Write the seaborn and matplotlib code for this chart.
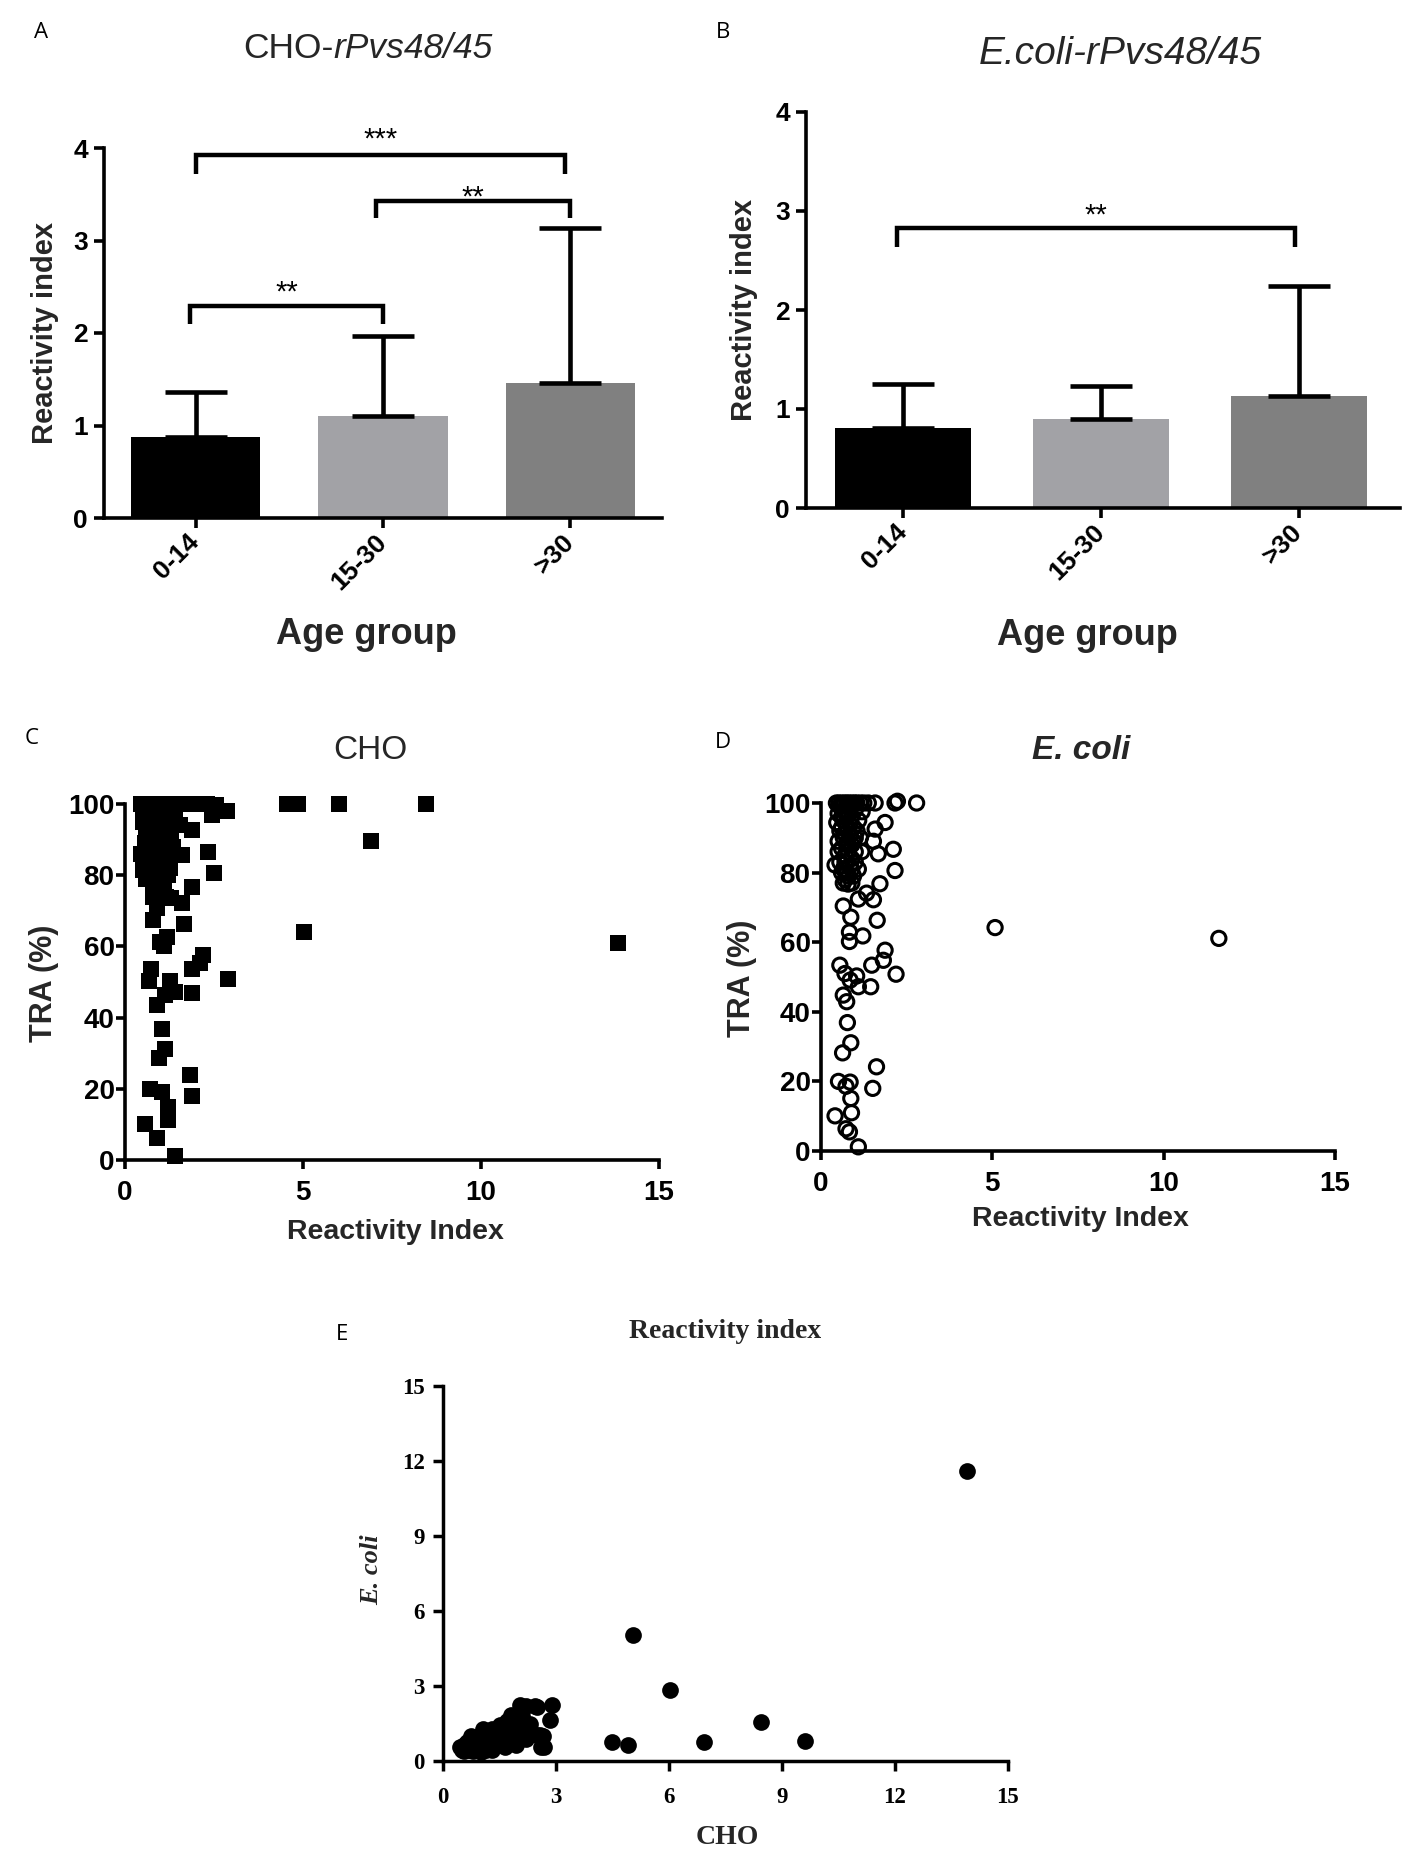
import numpy as np
import pandas as pd
import matplotlib
matplotlib.use("Agg")
import matplotlib.pyplot as plt
import seaborn as sns

# ---------------- data ----------------
age_groups = ['0-14', '15-30', '>30']
bar_colors = ['#000000', '#a2a2a6', '#808080']

cho_mean = [0.88, 1.10, 1.46]
cho_sd = [0.48, 0.87, 1.67]
ecoli_mean = [0.81, 0.90, 1.13]
ecoli_sd = [0.44, 0.33, 1.11]

# Panel C: CHO reactivity index vs TRA (%)
c_ri = [0.45, 0.55, 0.65, 0.75, 0.85, 0.95, 1.05, 1.15, 1.25, 1.35, 1.5, 1.65, 1.8, 1.95, 2.1, 2.3, 2.57,
        4.55, 4.85, 6.0, 8.45,
        0.5, 0.8, 1.1, 2.45, 2.86,
        0.55, 0.7, 0.9, 1.1, 1.3, 1.55, 1.87,
        0.6, 0.8, 1.0, 1.2, 0.65, 0.9, 1.1, 1.35, 1.6, 2.34,
        0.6, 0.85, 1.05, 1.25, 0.5, 0.75, 1.0, 1.2, 2.51,
        0.8, 1.0, 1.87, 1.15, 1.3, 1.59, 0.89, 0.8, 1.66, 1.17, 0.98, 1.1,
        2.2, 2.1, 1.87, 0.72, 5.04, 13.86, 6.92,
        0.68, 1.26, 1.40, 1.12, 0.89, 1.87, 2.90, 1.05, 1.12, 0.96, 1.83, 1.87,
        0.70, 1.03, 1.22, 1.22, 0.56, 0.89, 1.40,
        0.5, 0.65, 0.75, 0.95, 1.2, 0.55, 0.7, 0.85, 1.0, 1.3, 0.6, 0.9, 1.15, 0.7, 1.05,
        0.45, 1.4, 0.95, 1.1, 0.8]
c_tra = [100, 100, 100, 100, 100, 100, 100, 100, 100, 100, 100, 100, 100, 100, 100, 100, 99.7,
         100, 100, 100, 100,
         98, 98.5, 98, 97, 98.1,
         96, 95, 94, 95, 93.5, 94, 92.7,
         91, 90, 91, 89, 88, 87, 86, 88, 85.7, 86.6,
         84, 83, 84, 82, 81.5, 80, 79, 80, 80.5,
         77, 76, 76.6, 74, 73.5, 72.1, 70.7, 67.4, 66.3, 62.7, 61.3, 60,
         57.6, 55.4, 53.6, 53.6, 64.0, 61.0, 89.6,
         50.4, 50.4, 47.3, 46.3, 43.5, 47.0, 50.8, 36.8, 31.1, 28.6, 23.9, 18.0,
         19.9, 19.2, 15.0, 11.2, 10.0, 6.1, 1.1,
         95, 97, 92, 97, 96, 89, 86, 95, 88, 90, 79, 81, 84, 82, 93,
         86, 96, 76, 78, 74]

# Panel D: E. coli reactivity index vs TRA (%)
d_ri = [0.45, 0.52, 0.6, 0.68, 0.75, 0.82, 0.9, 0.98, 1.05, 1.15, 1.25, 1.38, 1.58, 2.16, 2.23, 2.79,
        0.5, 0.6, 0.7, 0.8, 0.9, 1.0, 1.2, 0.46, 0.55, 0.65, 0.75, 0.85, 0.95, 1.05, 1.15,
        1.87, 1.58, 1.53, 0.6, 0.7, 0.8, 0.9, 1.0, 1.19, 1.67, 2.11, 0.55, 0.41, 0.65, 0.75,
        0.85, 0.95, 1.09, 2.16, 0.7, 0.79, 0.9, 1.72, 1.33, 1.53, 1.09, 0.65, 0.87, 1.64,
        0.83, 1.22, 0.83, 5.08, 11.61, 1.87, 1.82,
        0.55, 1.48, 2.19, 0.70, 1.04, 0.85, 1.09, 1.45, 0.65, 0.75, 0.77, 0.87, 0.63, 1.62,
        0.51, 0.85, 0.73, 1.51, 0.87, 0.41, 0.89, 0.73, 0.83, 1.09,
        0.55, 0.65, 0.75, 0.85, 0.95, 0.5, 0.6, 0.7, 0.8, 0.9, 1.0, 0.6, 0.7, 0.8, 0.9, 1.0,
        1.1, 0.5, 0.75, 0.65]
d_tra = [100, 100, 100, 100, 100, 100, 100, 100, 100, 100, 100, 100, 100, 100, 100.5, 100,
         97, 96, 98, 97, 96, 98, 97.5, 94.4, 92, 90, 93, 91, 89, 92, 90,
         94.4, 92.5, 89, 87, 85, 88, 84, 86, 86, 85.4, 86.7, 83, 82.2, 81, 80,
         82, 79, 81, 80.6, 78, 76.7, 77, 76.8, 74.1, 72.2, 72.4, 70.4, 67.2, 66.3,
         62.9, 61.8, 60.2, 64.2, 61.1, 57.7, 54.8,
         53.4, 53.4, 50.8, 51.0, 50.3, 49.1, 47.2, 47.2, 44.8, 42.9, 36.9, 31.1, 28.2, 24.2,
         20.0, 19.8, 18.6, 18.0, 15.1, 10.1, 11.0, 6.4, 5.5, 1.2,
         99, 95, 96, 94, 93, 89, 93, 91, 86, 88, 90, 80, 83, 79, 81, 83,
         95, 86, 88, 77]

# Panel E: CHO vs E. coli reactivity index
e_cho = [0.45, 0.5, 0.55, 0.6, 0.65, 0.7, 0.75, 0.8, 0.85, 0.9, 0.95, 1.0, 1.05, 1.1, 1.15, 1.2,
         1.25, 1.3, 1.35, 1.4, 1.45, 1.5, 1.55, 1.6, 1.65, 1.7, 1.75, 1.8, 1.85, 1.9, 1.95, 2.0,
         2.05, 2.1, 2.2, 2.3, 2.45, 2.5, 2.6, 2.65, 2.85, 2.9, 0.6, 0.8, 1.0, 0.75, 1.05, 1.2,
         1.5, 1.7, 2.2, 2.49, 2.58, 2.67,
         0.55, 0.7, 0.9, 1.0, 1.15, 1.3, 1.45, 1.6, 1.75, 1.85, 2.0, 2.1, 1.3, 1.65, 0.85,
         4.49, 4.90, 5.05, 6.02, 6.94, 8.45, 9.6, 13.9]
e_ecoli = [0.55, 0.45, 0.65, 0.5, 0.75, 0.45, 0.6, 0.85, 0.5, 0.7, 1.0, 0.55, 0.8, 1.15, 0.45, 0.95,
           0.7, 1.3, 0.6, 1.05, 0.85, 1.45, 0.7, 1.2, 0.55, 1.6, 1.0, 1.85, 0.8, 1.35, 0.65, 1.5,
           2.25, 1.1, 2.2, 1.5, 2.2, 1.05, 0.55, 1.0, 1.65, 2.23, 0.7, 0.4, 0.35, 1.0, 1.3, 0.5,
           0.95, 0.75, 0.9, 2.16, 1.03, 0.56,
           0.4, 0.65, 0.5, 0.9, 0.75, 0.95, 1.2, 1.0, 1.35, 1.55, 1.2, 1.8, 0.45, 0.85, 0.65,
           0.76, 0.64, 5.05, 2.83, 0.78, 1.55, 0.8, 11.6]

# ---------------- style ----------------
sns.set_style("ticks")
plt.rcParams['font.family'] = ['Liberation Sans', 'DejaVu Sans']
plt.rcParams['axes.linewidth'] = 2.6

W, H = 1418, 1852
fig = plt.figure(figsize=(W / 100, H / 100), dpi=100)
fig.patch.set_facecolor('white')


def add_axes_px(left, right, top, bottom):
    return fig.add_axes([left / W, 1 - bottom / H, (right - left) / W, (bottom - top) / H])


def style_axes(ax, lw=2.6, tlen=7, lsize=17, pad=4, family=None):
    for s in ['top', 'right']:
        ax.spines[s].set_visible(False)
    for s in ['left', 'bottom']:
        ax.spines[s].set_linewidth(lw)
        ax.spines[s].set_color('black')
    ax.tick_params(direction='out', length=tlen, width=lw, colors='black', labelsize=lsize, pad=pad)
    for lab in ax.get_xticklabels() + ax.get_yticklabels():
        lab.set_fontweight('bold')
        if family:
            lab.set_family(family)


def bar_panel(ax, means, sds, brackets, xlim, xlabel_xy, ylabel_xy):
    df = pd.DataFrame({'group': age_groups, 'value': means})
    sns.barplot(data=df, x='group', y='value', hue='group', order=age_groups, hue_order=age_groups,
                palette=bar_colors, saturation=1, width=0.69, legend=False, errorbar=None,
                linewidth=0, ax=ax)
    xs = np.arange(len(age_groups))
    ax.errorbar(xs, means, yerr=[np.zeros(len(sds)), sds], fmt='none', ecolor='black',
                elinewidth=3.3, capsize=22, capthick=3.3, zorder=1)
    for (x1, x2, yl, yh, ytxt, stars) in brackets:
        ax.plot([x1, x1, x2, x2], [yl, yh, yh, yl], color='black', lw=3.2, clip_on=False,
                solid_joinstyle='miter', solid_capstyle='butt')
        ax.text((x1 + x2) / 2, ytxt, stars, ha='center', va='baseline', fontsize=21, color='black')
    ax.set_xlim(*xlim)
    ax.set_ylim(0, 4)
    ax.set_yticks([0, 1, 2, 3, 4])
    style_axes(ax, tlen=7.5, lsize=19, pad=4)
    ax.tick_params(axis='x', pad=7)
    for lab in ax.get_xticklabels():
        lab.set_rotation(45)
        lab.set_ha('right')
        lab.set_va('center')
        lab.set_rotation_mode('anchor')
    ax.set_xlabel('Age group', fontsize=26, fontweight='bold')
    ax.xaxis.set_label_coords(*xlabel_xy)
    ax.xaxis.label.set_va('center')
    ax.set_ylabel('Reactivity index', fontsize=21, fontweight='bold')
    ax.yaxis.set_label_coords(*ylabel_xy)
    ax.yaxis.label.set_va('center')


# ---------------- Panel A ----------------
axA = add_axes_px(104, 662, 148, 518)
bar_panel(axA, cho_mean, cho_sd,
          [(-0.03, 1.0, 2.10, 2.29, 2.35, '**'),
           (0.96, 2.0, 3.24, 3.43, 3.38, '**'),
           (0.0, 1.97, 3.72, 3.92, 4.01, '***')],
          (-0.49, 2.49), (0.471, -0.316), (-0.106, 0.5))
# title: upright "CHO-" followed by italic "rPvs48/45"
axA.set_title('CHO-', x=0.412, y=1.269, pad=0, va='center', ha='right', fontsize=25.5)
axA.text(0.412, 1.269, 'rPvs48/45', transform=axA.transAxes, ha='left', va='center',
         fontsize=25.5, style='italic')

# ---------------- Panel B ----------------
axB = add_axes_px(806, 1400, 112, 508)
bar_panel(axB, ecoli_mean, ecoli_sd,
          [(-0.03, 1.98, 2.64, 2.83, 2.87, '**')],
          (-0.49, 2.51), (0.473, -0.321), (-0.104, 0.5))
axB.set_title('E.coli-rPvs48/45', x=0.53, y=1.147, pad=0, va='center', fontsize=28, style='italic')

# ---------------- Panel C ----------------
axC = add_axes_px(125, 659, 804, 1160)
sns.scatterplot(x=c_ri, y=c_tra, marker='s', s=125, color='black', edgecolor='black', linewidth=0,
                clip_on=False, zorder=3, ax=axC)
axC.set_xlim(0, 15)
axC.set_ylim(0, 100)
axC.set_xticks([0, 5, 10, 15])
axC.set_yticks([0, 20, 40, 60, 80, 100])
style_axes(axC, tlen=6.5, lsize=20, pad=1)
axC.tick_params(axis='x', pad=8)
axC.set_title('CHO', x=0.46, y=1.149, pad=0, va='center', fontsize=24)
axC.set_xlabel('Reactivity Index', fontsize=20.5, fontweight='bold')
axC.xaxis.set_label_coords(0.506, -0.202)
axC.xaxis.label.set_va('center')
axC.set_ylabel('TRA (%)', fontsize=22, fontweight='bold')
axC.yaxis.set_label_coords(-0.152, 0.497)
axC.yaxis.label.set_va('center')

# ---------------- Panel D ----------------
axD = add_axes_px(821, 1335, 803, 1151)
sns.scatterplot(x=d_ri, y=d_tra, marker='o', s=105, facecolor='none', edgecolor='black', linewidth=2.2,
                clip_on=False, zorder=3, ax=axD)
axD.set_xlim(0, 15)
axD.set_ylim(0, 100)
axD.set_xticks([0, 5, 10, 15])
axD.set_yticks([0, 20, 40, 60, 80, 100])
style_axes(axD, tlen=6.5, lsize=20, pad=1)
axD.tick_params(axis='x', pad=8)
axD.set_title('E. coli', x=0.507, y=1.152, pad=0, va='center', fontsize=24,
              fontweight='bold', style='italic')
axD.set_xlabel('Reactivity Index', fontsize=20.5, fontweight='bold')
axD.xaxis.set_label_coords(0.505, -0.195)
axD.xaxis.label.set_va('center')
axD.set_ylabel('TRA (%)', fontsize=22, fontweight='bold')
axD.yaxis.set_label_coords(-0.154, 0.497)
axD.yaxis.label.set_va('center')

# ---------------- Panel E ----------------
serif = ['Liberation Serif', 'DejaVu Serif']
axE = add_axes_px(443, 1008, 1386, 1761)
sns.scatterplot(x=e_cho, y=e_ecoli, marker='o', s=145, color='black', edgecolor='black', linewidth=0,
                clip_on=False, zorder=3, ax=axE)
axE.set_xlim(0, 15)
axE.set_ylim(0, 15)
axE.set_xticks([0, 3, 6, 9, 12, 15])
axE.set_yticks([0, 3, 6, 9, 12, 15])
style_axes(axE, lw=2.5, tlen=7, lsize=16.5, pad=6, family=serif)
axE.tick_params(axis='x', pad=12)
axE.set_title('Reactivity index', x=0.499, y=1.145, pad=0, va='center', fontsize=20,
              fontweight='bold', family=serif)
axE.set_xlabel('CHO', fontsize=20, fontweight='bold', family=serif)
axE.xaxis.set_label_coords(0.503, -0.203)
axE.xaxis.label.set_va('center')
axE.set_ylabel('E. coli', fontsize=19, fontweight='bold', style='italic', family=serif)
axE.yaxis.set_label_coords(-0.127, 0.51)
axE.yaxis.label.set_va('center')

# ---------------- panel letters ----------------
for letter, (px, py) in {'A': (41, 32), 'B': (723, 32), 'C': (32, 738),
                          'D': (723, 743), 'E': (342, 1335)}.items():
    fig.text(px / W, 1 - py / H, letter, ha='center', va='center', fontsize=16,
             family=['Open Sans', 'DejaVu Sans'], color='black')

fig.savefig('out.png', dpi=100, facecolor='white')
